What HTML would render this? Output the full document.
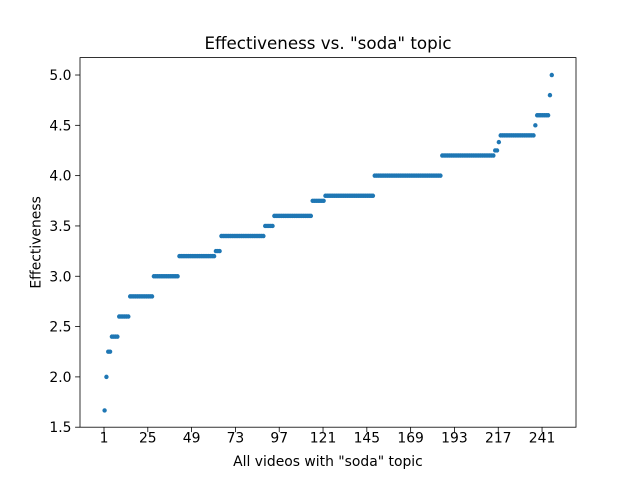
<!DOCTYPE html>
<html><head><meta charset="utf-8"><style>
body{margin:0;background:#fff;font-family:"DejaVu Sans","Liberation Sans",sans-serif}
</style></head><body>
<svg id="c" width="640" height="480" xmlns="http://www.w3.org/2000/svg" font-family="DejaVu Sans, Liberation Sans, sans-serif"></svg>
<script>
const levels=[1.667,2.0,2.25,2.4,2.6,2.8,3.0,3.2,3.25,3.4,3.5,3.6,3.75,3.8,4.0,4.2,4.25,4.333,4.4,4.5,4.6,4.8,5.0];
const counts=[1,1,2,4,6,13,14,20,3,24,5,21,7,27,37,29,2,1,19,1,7,1,1];
const xTickLabels=[1,25,49,73,97,121,145,169,193,217,241];
const yTickLabels=[1.5,2.0,2.5,3.0,3.5,4.0,4.5,5.0];
const values=[];
levels.forEach((v,i)=>{for(let k=0;k<counts[i];k++)values.push(v);});
const L=80,R=576,T=57.6,B=427.2;
const x0=-13.15,x1=258.6,y0=1.5,y1=5.173;
const sx=v=>L+(v-x0)/(x1-x0)*(R-L);
const sy=v=>B-(v-y0)/(y1-y0)*(B-T);
const svg=document.getElementById('c');
const NS='http://www.w3.org/2000/svg';
function mk(t,a,txt){const e=document.createElementNS(NS,t);for(const k in a)e.setAttribute(k,a[k]);if(txt!==undefined)e.textContent=txt;svg.appendChild(e);return e;}
values.forEach((v,i)=>{
 const p=mk('circle',{cx:sx(i)+0.6,cy:sy(v),r:2.2,fill:'#1f77b4'});
 
 
});
const fr=mk('rect',{x:L,y:T,width:R-L,height:B-T,fill:'none',stroke:'#000','stroke-width':0.8});


xTickLabels.forEach(l=>{
 const x=sx(l-1);
 mk('line',{x1:x,x2:x,y1:B,y2:B+4.9,stroke:'#000','stroke-width':0.8});
 const t=mk('text',{x:x,y:B+15.5,'text-anchor':'middle','font-size':13.9,fill:'#000'},String(l));
 
 
});
yTickLabels.forEach(l=>{
 const y=sy(l);
 mk('line',{x1:L-4.9,x2:L,y1:y,y2:y,stroke:'#000','stroke-width':0.8});
 const t=mk('text',{x:L-8.5,y:y+5,'text-anchor':'end','font-size':13.9,fill:'#000'},l.toFixed(1));
 
 
});
const tt=mk('text',{x:(L+R)/2,y:49,'text-anchor':'middle','font-size':16.7,fill:'#000'},'Effectiveness vs. "soda" topic');


const xl=mk('text',{x:(L+R)/2,y:466,'text-anchor':'middle','font-size':13.9,fill:'#000'},'All videos with "soda" topic');


const yl=mk('text',{x:0,y:0,'text-anchor':'middle','font-size':13.9,fill:'#000',transform:'translate(40.5,'+((T+B)/2)+') rotate(-90)'},'Effectiveness');


</script>
</body></html>
